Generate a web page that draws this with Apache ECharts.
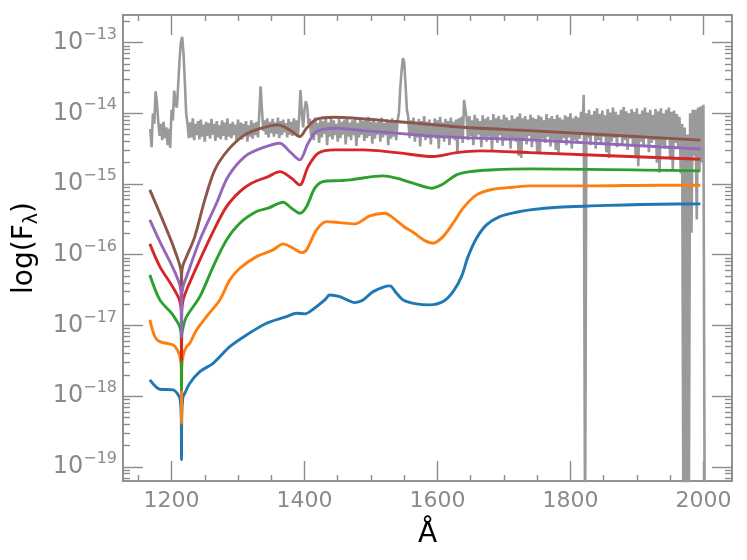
<!DOCTYPE html>
<html>
<head>
<meta charset="utf-8">
<script src="https://cdn.jsdelivr.net/npm/echarts@6/dist/echarts.min.js"></script>
<style>
html, body { margin: 0; padding: 0; background: #fff; }
#chart { width: 747px; height: 560px; }
</style>
</head>
<body>
<div id="chart"></div>
<script>
// tick labels
const xTicks = [1200, 1400, 1600, 1800, 2000];
const yDecades = [-19, -18, -17, -16, -15, -14, -13];

// model spectra, [wavelength (A), log10 F]
const blueModel = [[1167.4,-17.771],[1182.4,-17.902],[1202.4,-17.912],[1209.9,-17.98],[1213,-18.05],[1214.6,-18.3],[1215,-18.9],[1215.4,-18.3],[1217,-18.02],[1220,-17.959],
  [1227.5,-17.817],[1242.6,-17.653],[1262.6,-17.535],[1287.6,-17.30],[1312.8,-17.134],[1342.9,-16.969],[1372.9,-16.875],[1388,-16.827],[1400.5,-16.837],[1412.9,-16.771],
  [1430.5,-16.639],[1438,-16.569],[1453.1,-16.593],[1475.6,-16.677],[1488.1,-16.639],[1503.2,-16.522],[1528.3,-16.441],[1538.4,-16.545],[1548.3,-16.639],[1568.4,-16.696],
  [1588.4,-16.71],[1608.4,-16.663],[1623.5,-16.522],[1636.1,-16.31],[1646,-16.027],[1658.7,-15.767],[1673.7,-15.578],[1693.7,-15.461],[1718.8,-15.399],[1738.8,-15.366],
  [1781.4,-15.328],[1831.6,-15.31],[1881.7,-15.296],[1931.8,-15.286],[1995.5,-15.281]];
const orangeModel = [[1167.4,-16.922],[1174.9,-17.158],[1182.4,-17.229],[1202.4,-17.276],[1209,-17.35],[1212.5,-17.44],[1214.6,-17.6],[1215,-18.383],[1215.4,-17.6],[1217.5,-17.42],
  [1222.6,-17.30],[1227.5,-17.252],[1237.6,-17.064],[1252.6,-16.875],[1272.6,-16.639],[1287.7,-16.356],[1302.7,-16.191],[1327.8,-16.027],[1352.8,-15.932],[1367.8,-15.847],
  [1382.9,-15.908],[1395.5,-15.97],[1403,-15.932],[1418.1,-15.649],[1433.1,-15.532],[1453.1,-15.546],[1475.6,-15.564],[1498.2,-15.451],[1520.8,-15.413],[1530.8,-15.461],
  [1550.8,-15.611],[1563.3,-15.682],[1580.9,-15.801],[1593.4,-15.837],[1608.4,-15.744],[1623.5,-15.554],[1638.5,-15.342],[1658.7,-15.154],[1683.6,-15.074],[1713.7,-15.045],
  [1738.8,-15.027],[1831.6,-15.027],[1931.8,-15.017],[1995.5,-15.017]];
const greenModel = [[1167.4,-16.286],[1182.4,-16.639],[1200,-16.827],[1209.9,-16.97],[1213,-17.04],[1214.6,-17.15],[1215,-17.912],[1215.4,-17.15],[1217.5,-17.02],[1222.6,-16.875],
  [1242.6,-16.593],[1262.6,-16.168],[1282.7,-15.791],[1302.7,-15.554],[1327.8,-15.39],[1345.3,-15.342],[1367.8,-15.257],[1380.5,-15.342],[1392.9,-15.413],[1403,-15.32],
  [1415.5,-15.059],[1428,-14.966],[1453.1,-14.952],[1468.1,-14.942],[1518.2,-14.885],[1538.4,-14.918],[1563.3,-14.989],[1591,-15.059],[1608.4,-14.999],[1628.6,-14.871],
  [1648.6,-14.825],[1678.7,-14.801],[1738.8,-14.786],[1995.5,-14.815]];
const redModel = [[1167.4,-15.847],[1182.4,-16.168],[1200,-16.427],[1209.9,-16.593],[1213,-16.68],[1214.6,-16.8],[1215,-17.488],[1215.4,-16.8],[1217.5,-16.64],[1222.6,-16.498],
  [1242.6,-16.073],[1262.6,-15.673],[1282.7,-15.32],[1302.7,-15.107],[1320.3,-14.989],[1345.3,-14.895],[1362.9,-14.825],[1380.5,-14.918],[1392.9,-15.013],[1405.4,-14.754],
  [1420.5,-14.564],[1445.6,-14.518],[1488.1,-14.518],[1538.4,-14.556],[1593.4,-14.612],[1628.6,-14.556],[1663.6,-14.532],[1738.8,-14.556],[1995.5,-14.649]];
const purpleModel = [[1167.4,-15.508],[1182.4,-15.815],[1200,-16.144],[1209.9,-16.356],[1213,-16.45],[1214.6,-16.6],[1215,-17.158],[1215.4,-16.6],[1217.5,-16.44],[1222.6,-16.31],
  [1242.6,-15.791],[1267.7,-15.272],[1285.1,-14.895],[1310.2,-14.612],[1335.3,-14.494],[1362.9,-14.423],[1377.9,-14.542],[1392.9,-14.659],[1405.4,-14.423],[1418.1,-14.259],
  [1445.6,-14.211],[1488.1,-14.245],[1538.4,-14.281],[1588.4,-14.32],[1638.5,-14.344],[1738.8,-14.376],[1995.5,-14.504]];
const brownModel = [[1167.4,-15.083],[1182.4,-15.413],[1200,-15.815],[1209.9,-16.073],[1213,-16.17],[1214.6,-16.25],[1215,-16.43],[1215.4,-16.25],[1217.5,-16.14],[1222.6,-16.027],
  [1235,-15.744],[1250,-15.225],[1265.1,-14.801],[1285.1,-14.518],[1310.2,-14.305],[1335.3,-14.211],[1360.3,-14.164],[1377.9,-14.235],[1392.9,-14.33],[1403,-14.211],
  [1418.1,-14.083],[1445.6,-14.055],[1538.4,-14.117],[1638.5,-14.197],[1738.8,-14.245],[1995.5,-14.38]];

// observed spectrum: noise upper / lower edge (log10 F) every 4 A from obsStart,
// the lower edge read 2 A after the upper one; -20 marks dropouts below the axis
const obsStart = 1168;
const obsStep = 4;
const obsUpper = [
  -14.22, -14.00, -13.69, -14.12, -14.15, -14.12, -14.20, -14.22, -13.95, -13.68, -13.92, -13.25, -12.92, -13.55, -14.15,
  -14.13, -14.07, -14.15, -14.11, -14.09, -14.16, -14.12, -14.14, -14.08, -14.15, -14.11, -14.17, -14.10, -14.13, -14.07,
  -14.15, -14.12, -14.16, -14.09, -14.13, -14.15, -14.11, -14.17, -14.10, -14.14, -14.12,
  -14.00, -13.95,
  -14.10, -14.07, -14.12, -14.08, -14.13, -14.06, -14.11, -14.09, -14.14, -14.08, -14.12, -14.07, -14.10,
  -14.05, -14.00, -13.95, -13.90,
  -14.08, -14.12, -14.06, -14.14, -14.09, -14.11, -14.05, -14.13, -14.08, -14.10, -14.15, -14.07, -14.12, -14.09, -14.06,
  -14.13, -14.10, -14.08, -14.14, -14.07, -14.11, -14.09, -14.05, -14.12, -14.08, -14.13, -14.10, -14.06, -14.14, -14.09,
  -14.11, -14.07, -14.12,
  -14.10, -13.65, -13.22, -13.60, -14.05,
  -14.10, -14.06, -14.13, -14.08, -14.11, -14.04, -14.12, -14.09, -14.14, -14.07, -14.10, -14.05, -14.13, -14.08, -14.11,
  -14.06, -14.12, -14.09, -14.07, -14.05,
  -13.81,
  -14.08, -14.04, -14.10, -14.02, -14.07, -14.11, -14.03, -14.08, -14.05, -14.10, -14.01, -14.07, -14.04, -14.09, -14.02,
  -14.06, -14.10, -14.03, -14.08, -14.05, -14.00, -14.07, -14.04, -14.09, -14.02, -14.06, -14.08, -14.03, -14.05, -14.10,
  -14.01, -14.07, -14.04, -14.08, -14.02, -14.06, -14.09, -14.03, -14.05, -14.00, -14.07, -14.04, -14.06, -13.98,
  -13.74,
  -14.00, -13.95, -14.02, -13.97, -13.93, -14.01, -13.96, -14.03, -13.94, -13.99, -13.92, -13.98, -14.02, -13.95, -13.91,
  -13.97, -14.00, -13.94, -13.98, -13.93, -14.01, -13.96, -13.92, -13.99, -13.95, -14.02, -13.94, -13.97, -13.93, -14.00,
  -13.95, -13.92, -13.98, -13.96, -14.01,
  -14.05, -14.15, -14.20, -14.30, -14.00, -13.95, -13.95, -13.92, -13.90, -13.88];
const obsLower = [
  -14.48, -14.15, -13.85, -14.32, -14.38, -14.35, -14.45, -14.49, -14.10, -13.85, -13.60, -13.00, -13.15, -14.00, -14.35,
  -14.34, -14.38, -14.31, -14.37, -14.33, -14.40, -14.32, -14.36, -14.30, -14.39, -14.34, -14.37, -14.32, -14.38, -14.33,
  -14.35, -14.31, -14.39, -14.34, -14.37, -14.32, -14.40, -14.33, -14.36, -14.31, -14.34,
  -13.62, -14.25,
  -14.30, -14.34, -14.28, -14.33, -14.29, -14.35, -14.31, -14.27, -14.34, -14.30, -14.32, -14.28, -14.33,
  -13.67, -14.20, -13.83, -14.15,
  -14.32, -14.38, -14.30, -14.42, -14.34, -14.29, -14.45, -14.33, -14.37, -14.31, -14.40, -14.35, -14.30, -14.44, -14.33,
  -14.38, -14.31, -14.46, -14.34, -14.30, -14.39, -14.35, -14.32, -14.43, -14.36, -14.30, -14.40, -14.34, -14.31, -14.45,
  -14.36, -14.33, -14.38,
  -14.00, -13.40, -13.28, -13.95, -14.35,
  -14.32, -14.40, -14.34, -14.47, -14.30, -14.38, -14.35, -14.44, -14.31, -14.36, -14.50, -14.33, -14.40, -14.35, -14.45,
  -14.32, -14.38, -14.55, -14.36, -14.42,
  -13.95,
  -14.38, -14.32, -14.45, -14.35, -14.30, -14.48, -14.36, -14.40, -14.33, -14.52, -14.35, -14.42, -14.31, -14.46, -14.38,
  -14.34, -14.50, -14.36, -14.40, -14.60, -14.63, -14.35, -14.44, -14.32, -14.48, -14.38, -14.55, -14.58, -14.36, -14.42,
  -14.33, -14.47, -14.37, -14.52, -14.56, -14.40, -14.35, -14.45, -14.34, -14.50, -14.38, -14.42, -14.36, -14.30,
  -20,
  -14.35, -14.45, -14.30, -14.50, -14.38, -14.42, -14.33, -14.55, -14.63, -14.40, -14.35, -14.48, -14.32, -14.45, -14.38,
  -14.52, -14.36, -14.44, -14.60, -14.75, -14.40, -14.47, -14.35, -14.55, -14.42, -14.38, -14.70, -14.84, -14.45, -14.50,
  -14.36, -14.65, -14.80, -14.42, -14.48,
  -14.85, -20, -20, -20, -15.69, -14.60, -15.50, -14.80, -14.70, -20];

const observed = [];
obsUpper.forEach((u, i) => {
  const w = obsStart + i * obsStep;
  observed.push([w, u]);
  observed.push([w + obsStep / 2, obsLower[i]]);
});

const axisGrey = '#8c8c8c';
const labelGrey = '#8a8a8a';
const fontFam = 'DejaVu Sans';

let xMinor = [];
for (let v = 1150; v < 2043; v += 50) if (v % 200 !== 0) xMinor.push(v);
let yMinor = [];
for (let n = -20; n <= -13; n++) {
  for (let k = 2; k <= 9; k++) {
    const v = n + Math.log10(k);
    if (v > -19.2 && v < -12.61) yMinor.push(v);
  }
}

function xAx(pos, ticks, len, withLabels) {
  return {
    type: 'value', position: pos, min: 1127, max: 2043,
    axisLine: { show: true, lineStyle: { color: axisGrey, width: 1.6 } },
    axisTick: { show: true, inside: true, length: len, customValues: ticks, lineStyle: { color: axisGrey, width: 1.4 } },
    axisLabel: withLabels
      ? { show: true, customValues: xTicks, margin: 9, color: labelGrey, fontSize: 22, fontFamily: fontFam,
          formatter: v => String(v) }
      : { show: false },
    splitLine: { show: false }
  };
}
function yAx(pos, ticks, len, withLabels) {
  return {
    type: 'value', position: pos, min: -19.2, max: -12.61,
    axisLine: { show: true, lineStyle: { color: axisGrey, width: 1.6 } },
    axisTick: { show: true, inside: true, length: len, customValues: ticks, lineStyle: { color: axisGrey, width: 1.4 } },
    axisLabel: withLabels
      ? {
          show: true, customValues: yDecades, margin: 6,
          formatter: v => '{b|10}{e|\u2212' + Math.round(-v) + '}',
          rich: {
            b: { fontSize: 24, lineHeight: 32, color: labelGrey, fontFamily: fontFam },
            e: { fontSize: 16, lineHeight: 16, verticalAlign: 'top', color: labelGrey, fontFamily: fontFam }
          }
        }
      : { show: false },
    splitLine: { show: false }
  };
}

const xMain = xAx('bottom', xTicks, 20, true);
xMain.name = '\u00c5';
xMain.nameLocation = 'middle';
xMain.nameGap = 40;
xMain.nameTextStyle = { fontSize: 28, color: '#000', fontFamily: fontFam };

const yMain = yAx('left', yDecades, 20, true);
yMain.name = '{a|log(F}{s|\u03bb}{a|)}';
yMain.nameLocation = 'middle';
yMain.nameGap = 72;
yMain.nameTextStyle = {
  rich: {
    a: { fontSize: 28, lineHeight: 34, color: '#000', fontFamily: fontFam },
    s: { fontSize: 19, lineHeight: 19, verticalAlign: 'bottom', color: '#000', fontFamily: fontFam }
  }
};

function model(name, color, data) {
  return {
    name: name, type: 'line', data: data, showSymbol: false, smooth: 0.3,
    lineStyle: { color: color, width: 2.9 }, itemStyle: { color: color },
    z: 3, silent: true
  };
}

const chart = echarts.init(document.getElementById('chart'));
chart.setOption({
  animation: false,
  backgroundColor: '#fff',
  grid: { left: 123, right: 15, top: 15, bottom: 79, outerBoundsMode: 'none' },
  xAxis: [xMain, xAx('bottom', xMinor, 6, false), xAx('top', xTicks, 20, false), xAx('top', xMinor, 6, false)],
  yAxis: [yMain, yAx('left', yMinor, 7, false), yAx('right', yDecades, 20, false), yAx('right', yMinor, 7, false)],
  series: [
    {
      name: 'observed', type: 'line', data: observed, showSymbol: false,
      lineStyle: { color: '#9a9a9a', width: 2.6 }, itemStyle: { color: '#9a9a9a' },
      z: 2, silent: true
    },
    model('m0', '#1f77b4', blueModel),
    model('m1', '#ff7f0e', orangeModel),
    model('m2', '#2ca02c', greenModel),
    model('m3', '#d62728', redModel),
    model('m4', '#9467bd', purpleModel),
    model('m5', '#8c564b', brownModel)
  ]
});
</script>
</body>
</html>
